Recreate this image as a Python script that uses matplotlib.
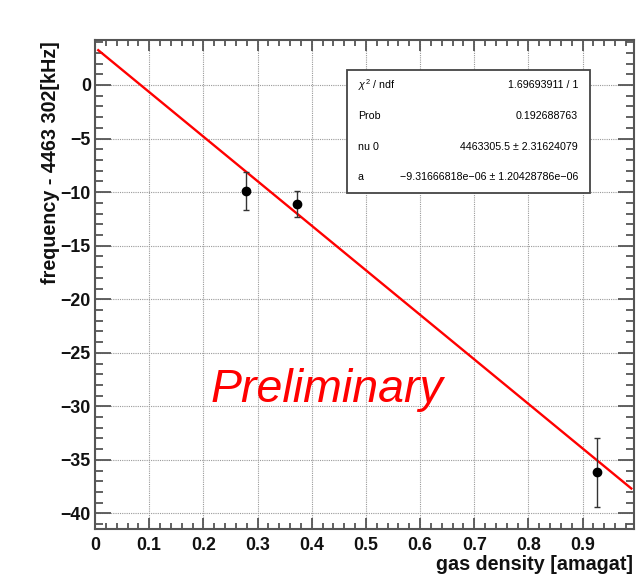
import numpy as np
import matplotlib
matplotlib.use("Agg")
import matplotlib.pyplot as plt
from matplotlib.patches import Rectangle
from matplotlib.ticker import MultipleLocator

# ---- data ----
density = [0.279, 0.372, 0.927]            # gas density [amagat]
freq_offset = [-9.9, -11.1, -36.15]         # frequency - 4463302 [kHz]
freq_err = [1.75, 1.2, 3.2]

# fit result (stats box)
nu0 = 4463305.5
nu0_err = 2.31624079
a_par = -9.31666818e-06
a_err = 1.20428786e-06
chi2_text = "1.69693911 / 1"
prob_text = "0.192688763"
fit_range = [0.006, 0.99]
ref_freq = 4463302.0

stat_labels = [r"$\chi^{2}$ / ndf", "Prob", "nu 0", "a"]
stat_values = [chi2_text, prob_text,
               "4463305.5 \u00b1 2.31624079",
               "\u22129.31666818e\u221206 \u00b1 1.20428786e\u221206"]

xlim = (0.0, 0.995)
ylim = (-41.45, 4.2)

W, H = 637, 574
plt.rcParams['font.family'] = ['Liberation Sans', 'DejaVu Sans']
plt.rcParams['mathtext.fontset'] = 'custom'
plt.rcParams['mathtext.rm'] = 'Liberation Sans'
plt.rcParams['mathtext.it'] = 'Liberation Sans:italic'

fig = plt.figure(figsize=(W / 100, H / 100), dpi=100)
fig.patch.set_facecolor('white')
L, R, T, B = 95, 634, 40, 529
ax = fig.add_axes([L / W, 1 - B / H, (R - L) / W, (B - T) / H])

ax.set_xlim(*xlim)
ax.set_ylim(*ylim)

ax.xaxis.set_major_locator(MultipleLocator(0.1))
ax.xaxis.set_minor_locator(MultipleLocator(0.02))
ax.yaxis.set_major_locator(MultipleLocator(5))
ax.yaxis.set_minor_locator(MultipleLocator(1))

frame_col = '#555555'
for s in ax.spines.values():
    s.set_color(frame_col)
    s.set_linewidth(1.5)

ax.tick_params(axis='both', which='both', direction='in', top=True, right=True,
               color=frame_col, width=1.3, labelcolor='#111111')
ax.tick_params(axis='x', which='major', length=8, pad=5.5)
ax.tick_params(axis='x', which='minor', length=4.5)
ax.tick_params(axis='y', which='major', length=11.5, pad=3)
ax.tick_params(axis='y', which='minor', length=5.5)

for lab in ax.get_xticklabels() + ax.get_yticklabels():
    lab.set_fontsize(12.8)
    lab.set_fontweight('bold')

def xfmt(v, pos):
    if abs(v) < 1e-9:
        return "0"
    if v > 0.995:
        return ""
    return f"{v:.1f}"
ax.xaxis.set_major_formatter(plt.FuncFormatter(xfmt))
ax.yaxis.set_major_formatter(plt.FuncFormatter(lambda v, p: f"{int(round(v))}".replace('-', '\u2212')))

ax.grid(True, which='major', color='#9a9a9a', linestyle=(0, (1, 1)), linewidth=0.8)
ax.set_axisbelow(True)

# fit line
xf = np.linspace(fit_range[0], fit_range[1], 200)
yf = nu0 * (1 + a_par * xf) - ref_freq
ax.plot(xf, yf, color='#ff0000', lw=1.7, zorder=3)

# data points
ax.errorbar(density, freq_offset, yerr=freq_err, fmt='o', color='black',
            ecolor='#333333', elinewidth=1.0, capsize=2, capthick=1.0,
            markersize=6, zorder=4)

# Preliminary
ax.text(0.214, -29.57, "Preliminary", color='#ff0000', fontsize=33.5,
        fontstyle='italic', ha='left', va='baseline', zorder=5)

# stats box
bx0, bx1, by0, by1 = 346.7, 590, 70, 192.7
def afx(px):
    return (px - L) / (R - L)
def afy(py):
    return (B - py) / (B - T)
ax.add_patch(Rectangle((afx(bx0), afy(by1)), afx(bx1) - afx(bx0), afy(by0) - afy(by1),
                       transform=ax.transAxes, facecolor='white', edgecolor='#444444',
                       linewidth=1.3, zorder=6))
rows_y = [85.5, 116.3, 147.0, 177.5]
for lbl, val, ry in zip(stat_labels, stat_values, rows_y):
    ax.text(afx(358), afy(ry), lbl, transform=ax.transAxes, fontsize=7.7,
            ha='left', va='center', color='#000000', zorder=7)
    ax.text(afx(578), afy(ry), val, transform=ax.transAxes, fontsize=7.7,
            ha='right', va='center', color='#000000', zorder=7)

# axis titles
fig.text(51 / W, 1 - 41 / H, "frequency - 4463 302[kHz]", rotation=90,
         ha='center', va='top', fontsize=14.2, fontweight='bold', color='#111111')
fig.text(633 / W, 1 - 570 / H, "gas density [amagat]", ha='right', va='baseline',
         fontsize=14.2, fontweight='bold', color='#111111')

fig.savefig("out.png", dpi=100, facecolor='white')
